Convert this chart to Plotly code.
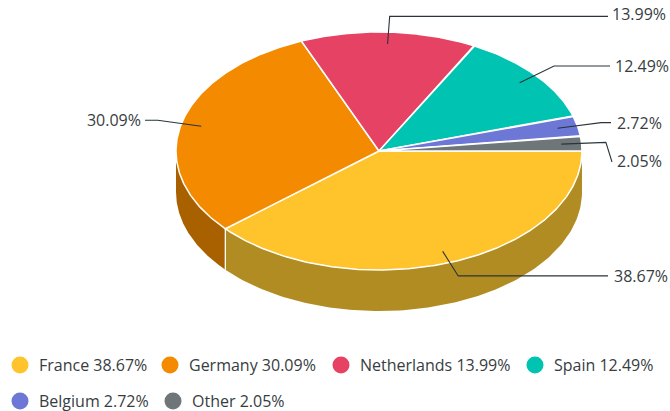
import numpy as np
import plotly.graph_objects as go

categories = ["France", "Germany", "Netherlands", "Spain", "Belgium", "Other"]
values = [38.67, 30.09, 13.99, 12.49, 2.72, 2.05]
colors = ["#FFC42B", "#F38A00", "#E64263", "#00C4B1", "#6D78D6", "#6F7679"]
wall_colors = ["#B18C22", "#A96100", "#A12E45", "#00897C", "#4C5496", "#4E5355"]

W, H = 670, 411
CX, CY, RX, RY, DEPTH = 379, 151, 203, 119, 41
FONT = "Open Sans"
TEXT = "#373D3F"
FS = 16


def pt(deg, r=1.0, dy=0.0):
    a = np.radians(deg)
    return CX + RX * r * np.cos(a), CY + RY * r * np.sin(a) + dy


total = sum(values)
edges = np.concatenate([[0], np.cumsum(values)]) / total * 360
fig = go.Figure()

# side walls (only the front half of the rim is visible)
for i in range(len(values)):
    a0, a1 = max(edges[i], 0), min(edges[i + 1], 180)
    if a1 <= a0:
        continue
    t = np.linspace(a0, a1, 120)
    xt, yt = pt(t)
    xb, yb = pt(t[::-1], dy=DEPTH)
    fig.add_trace(go.Scatter(x=np.r_[xt, xb], y=np.r_[yt, yb], fill="toself", mode="lines",
                             fillcolor=wall_colors[i], line=dict(width=0), hoverinfo="skip"))
# seams on the wall
for e in edges[1:-1]:
    if 0 < e < 180:
        x0, y0 = pt(e)
        x1, y1 = pt(e, dy=DEPTH)
        fig.add_trace(go.Scatter(x=[x0, x1], y=[y0, y1], mode="lines",
                                 line=dict(color="white", width=1.3), hoverinfo="skip"))

# top slices
for i in range(len(values)):
    t = np.linspace(edges[i], edges[i + 1], 200)
    x, y = pt(t)
    fig.add_trace(go.Scatter(x=np.r_[CX, x, CX], y=np.r_[CY, y, CY], fill="toself", mode="lines",
                             fillcolor=colors[i], line=dict(color="white", width=1.5),
                             name=categories[i], hoverinfo="name"))

# leader lines: end x of the horizontal run, label x, label y offset
leader_end = [608, 145, 608, 610, 611, 612]
label_x = [614, 141, 612, 615, 617, 617]
label_dy = [2, 2, 0, 2, 2, 2]
elbow_dy = [0, 0, -1.5, 0, 0, 0]
for i in range(len(values)):
    m = (edges[i] + edges[i + 1]) / 2
    x0, y0 = pt(m, 0.9)
    x1, y1 = pt(m, 1.12, dy=elbow_dy[i])
    if categories[i] == "Other":
        ye = 162
        ly = 163
    else:
        ye = y1
        ly = y1 + label_dy[i]
    fig.add_trace(go.Scatter(x=[x0, x1, leader_end[i]], y=[y0, y1, ye], mode="lines",
                             line=dict(color="#2A343A", width=1.1), hoverinfo="skip"))
    fig.add_trace(go.Scatter(x=[label_x[i]], y=[ly], mode="text",
                             text=[f"{values[i]:.2f}%"],
                             textposition="middle right" if label_x[i] > CX else "middle left",
                             textfont=dict(family=FONT, size=FS, color=TEXT), hoverinfo="skip"))

# legend
legend_marker_x = [20, 170, 341, 535, 20, 173]
legend_y = [365, 365, 365, 365, 401, 401]
for i in range(len(values)):
    fig.add_trace(go.Scatter(x=[legend_marker_x[i]], y=[legend_y[i]], mode="markers",
                             marker=dict(size=17, color=colors[i]), hoverinfo="skip"))
    fig.add_trace(go.Scatter(x=[legend_marker_x[i] + 19], y=[legend_y[i] + 2], mode="text",
                             text=[f"{categories[i]} {values[i]:.2f}%"], textposition="middle right",
                             textfont=dict(family=FONT, size=FS, color=TEXT), hoverinfo="skip"))

fig.update_layout(
    width=W, height=H, margin=dict(l=0, r=0, t=0, b=0), showlegend=False,
    paper_bgcolor="white", plot_bgcolor="white",
    xaxis=dict(range=[0, W], visible=False, fixedrange=True),
    yaxis=dict(range=[H, 0], visible=False, fixedrange=True),
)
fig.write_html("out.html", config=dict(displayModeBar=False),
               post_script="document.body.style.margin='0';document.body.style.overflow='hidden';")
